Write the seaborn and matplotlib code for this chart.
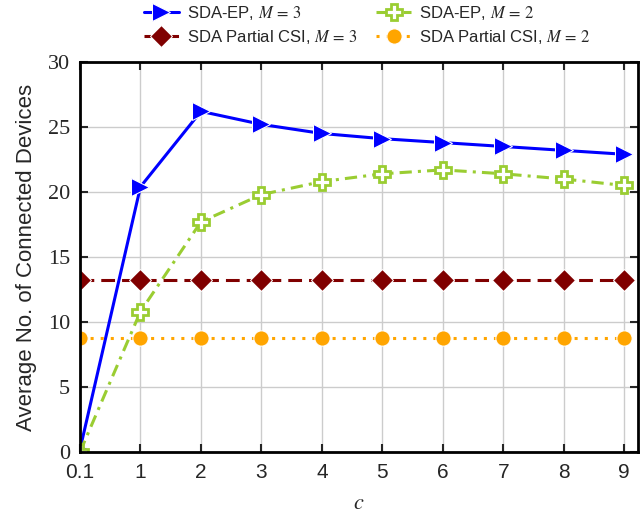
import matplotlib
matplotlib.use('Agg')
import matplotlib.pyplot as plt
import seaborn as sns
import pandas as pd

c_labels = ['0.1', '1', '2', '3', '4', '5', '6', '7', '8', '9']
sda_ep_m3 = [0.2, 20.4, 26.2, 25.2, 24.5, 24.1, 23.8, 23.5, 23.2, 22.9]
sda_ep_m2 = [0.0, 10.8, 17.7, 19.8, 20.8, 21.4, 21.7, 21.4, 21.0, 20.5]
partial_m3 = [13.2] * 10
partial_m2 = [8.8] * 10

sns.set_style('ticks')
plt.rcParams['font.family'] = ['Liberation Sans', 'DejaVu Sans']
plt.rcParams['mathtext.fontset'] = 'stix'

pos = list(range(len(c_labels)))

fig = plt.figure(figsize=(6.4, 5.2), dpi=100)
ax = fig.add_axes([0.125, 0.1308, 0.872, 0.7500])

series = [
    (sda_ep_m3, r'SDA-EP, $M\,=\,3$', dict(color='#0000ff', marker='>', markersize=13, lw=2.2, ls='-')),
    (sda_ep_m2, r'SDA-EP, $M\,=\,2$', dict(color='#9acd32', marker='P', markersize=11, lw=2.2,
                                          ls=(0, (4, 2, 1, 2)), markerfacecolor='white',
                                          markeredgecolor='#9acd32', markeredgewidth=2)),
    (partial_m3, r'SDA Partial CSI, $M\,=\,3$', dict(color='#800000', marker='D', markersize=11, lw=2.2,
                                                    ls=(0, (4.5, 2.3)))),
    (partial_m2, r'SDA Partial CSI, $M\,=\,2$', dict(color='#ffa500', marker='o', markersize=11, lw=2.2,
                                                    ls=(0, (1, 2.3)))),
]

for vals, label, kw in series:
    df = pd.DataFrame({'pos': pos, 'val': vals})
    sns.lineplot(data=df, x='pos', y='val', ax=ax, label=label, **kw)

ax.set_xlim(0, 9.23)
ax.set_ylim(0, 30)
ax.set_xticks(pos)
ax.set_xticklabels(c_labels, fontsize=15)
ax.set_yticks(range(0, 31, 5))
for t in ax.get_yticklabels():
    t.set_fontfamily('Liberation Serif')
    t.set_fontsize(16)
ax.grid(True, color='#cccccc', lw=1)
ax.tick_params(direction='in', top=True, right=True, length=6, width=1.5)
ax.tick_params(axis='x', pad=8)
ax.tick_params(axis='y', pad=7)
for s in ax.spines.values():
    s.set_linewidth(2)
    s.set_color('black')

ax.set_xlabel('$c$', fontsize=16, labelpad=8)
ax.set_ylabel('Average No. of Connected Devices', fontsize=16, labelpad=8)

handles, labels = ax.get_legend_handles_labels()
ax.legend_.remove()
order = [0, 2, 1, 3]
fig.legend([handles[i] for i in order], [labels[i] for i in order], ncol=2,
           loc='upper center', bbox_to_anchor=(0.574, 1.022),
           frameon=False, fontsize=12, handlelength=2.1, columnspacing=1.1,
           handletextpad=0.5, labelspacing=0.4)

fig.savefig('out.png', dpi=100)
